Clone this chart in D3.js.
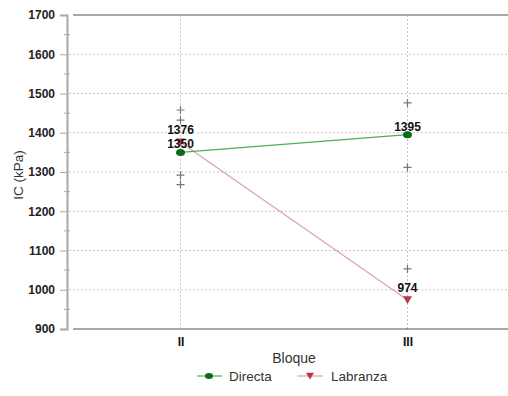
<!DOCTYPE html>
<html>
<head>
<meta charset="utf-8">
<script src="https://cdn.jsdelivr.net/npm/d3@7"></script>
<style>
  html, body { margin: 0; padding: 0; background: #fff; }
  svg { display: block; font-family: Arial, "Liberation Sans", sans-serif; }
</style>
</head>
<body>
<svg id="chart" width="508" height="396"></svg>
<script>
// Bloques evaluados
const bloques = ["II", "III"];

// Índice de cono medio (kPa) por sistema de labranza
const directa = [1350, 1395];
const labranza = [1376, 974];

// Límites de los intervalos de confianza
const directaLow = [1268, 1312];
const directaHigh = [1432, 1476];
const labranzaLow = [1292, 893];
const labranzaHigh = [1458, 1053];

// Marcas del eje Y
const yTicks = [900, 1000, 1100, 1200, 1300, 1400, 1500, 1600, 1700];
const yMinorTicks = [950, 1050, 1150, 1250, 1350, 1450, 1550, 1650];

const svg = d3.select("#chart");
const plotLeft = 67, plotRight = 508, plotTop = 15, plotBottom = 329;

const x = d3.scalePoint().domain(bloques).range([plotLeft, 521]).padding(0.5);
const y = d3.scaleLinear().domain([900, 1700]).range([plotBottom, plotTop]);

svg.append("defs").append("clipPath").attr("id", "plotClip")
  .append("rect").attr("x", plotLeft).attr("y", plotTop)
  .attr("width", plotRight - plotLeft).attr("height", plotBottom - plotTop);

// Cuadrícula horizontal punteada
svg.append("g").selectAll("line").data(yTicks.filter(d => d > 900 && d < 1700)).join("line")
  .attr("x1", plotLeft + 2).attr("x2", plotRight)
  .attr("y1", d => y(d)).attr("y2", d => y(d))
  .attr("stroke", "#c8c8c8").attr("stroke-width", 1).attr("stroke-dasharray", "2,2");

// Cuadrícula vertical punteada
svg.append("g").selectAll("line").data(bloques).join("line")
  .attr("x1", d => x(d)).attr("x2", d => x(d))
  .attr("y1", plotTop).attr("y2", plotBottom)
  .attr("stroke", "#c8c8c8").attr("stroke-width", 1).attr("stroke-dasharray", "2,2");

// Bordes superior e inferior
svg.append("line").attr("x1", plotLeft + 6).attr("x2", plotRight).attr("y1", plotTop).attr("y2", plotTop)
  .attr("stroke", "#a8a8a8").attr("stroke-width", 2);
svg.append("line").attr("x1", plotLeft + 6).attr("x2", plotRight).attr("y1", plotBottom).attr("y2", plotBottom)
  .attr("stroke", "#a8a8a8").attr("stroke-width", 2);

// Eje Y
const yAxis = svg.append("g").attr("transform", `translate(${plotLeft},0)`)
  .call(d3.axisLeft(y).tickValues(yTicks).tickSize(7).tickPadding(5).tickFormat(d3.format("d")));
yAxis.select(".domain").attr("stroke", "#a8a8a8").attr("stroke-width", 2);
yAxis.selectAll(".tick line").attr("stroke", "#a8a8a8");
yAxis.selectAll(".tick text").attr("font-size", 12).attr("font-weight", "bold")
  .attr("fill", "#222").attr("font-family", "Arial, 'Liberation Sans', sans-serif");
svg.append("g").selectAll("line").data(yMinorTicks).join("line")
  .attr("x1", plotLeft - 3).attr("x2", plotLeft + 3)
  .attr("y1", d => y(d)).attr("y2", d => y(d))
  .attr("stroke", "#a8a8a8");

// Eje X
const xAxis = svg.append("g").attr("transform", `translate(0,${plotBottom})`)
  .call(d3.axisBottom(x).tickSize(0).tickPadding(8));
xAxis.select(".domain").remove();
xAxis.selectAll(".tick text").attr("font-size", 12).attr("font-weight", "bold")
  .attr("fill", "#111").attr("font-family", "Arial, 'Liberation Sans', sans-serif");

// Títulos de ejes
svg.append("text").attr("x", 294).attr("y", 363).attr("text-anchor", "middle")
  .attr("font-size", 14).attr("fill", "#333").text("Bloque");
svg.append("text").attr("transform", `translate(23,175) rotate(-90)`).attr("text-anchor", "middle")
  .attr("font-size", 13.5).attr("fill", "#333").text("IC (kPa)");

const plot = svg.append("g").attr("clip-path", "url(#plotClip)");

// Marcas de intervalos (+)
function crosses(vals) {
  plot.append("g").selectAll("path").data(vals).join("path")
    .attr("d", (d, i) => {
      const cx = x(bloques[i]), cy = y(d);
      return `M${cx - 4},${cy}H${cx + 4}M${cx},${cy - 4}V${cy + 4}`;
    })
    .attr("stroke", "#777").attr("stroke-width", 1.2).attr("fill", "none");
}
crosses(directaLow); crosses(directaHigh); crosses(labranzaLow); crosses(labranzaHigh);

// Líneas de las series
const lineGen = d3.line().x((d, i) => x(bloques[i])).y(d => y(d));
plot.append("path").datum(labranza).attr("d", lineGen)
  .attr("fill", "none").attr("stroke", "#d9a3ab").attr("stroke-width", 1.2);
plot.append("path").datum(directa).attr("d", lineGen)
  .attr("fill", "none").attr("stroke", "#4caf50").attr("stroke-width", 1.2);

// Puntos
const triangle = (cx, cy, s) => `M${cx - s},${cy - s * 0.8}L${cx + s},${cy - s * 0.8}L${cx},${cy + s * 0.9}Z`;
plot.append("g").selectAll("path").data(labranza).join("path")
  .attr("d", (d, i) => triangle(x(bloques[i]), y(d), 4.5))
  .attr("fill", "#b8384a");
plot.append("g").selectAll("ellipse").data(directa).join("ellipse")
  .attr("cx", (d, i) => x(bloques[i])).attr("cy", d => y(d))
  .attr("rx", 4.5).attr("ry", 3.5).attr("fill", "#0b6b1a");

// Etiquetas de valores
function labels(vals, dy) {
  svg.append("g").selectAll("text").data(vals).join("text")
    .attr("x", (d, i) => x(bloques[i])).attr("y", d => y(d) + dy)
    .attr("text-anchor", "middle").attr("font-size", 12).attr("font-weight", "bold")
    .attr("fill", "#111").text(d => d);
}
labels(labranza, -8);
labels(directa, -4);

// Leyenda
const leg = svg.append("g").attr("transform", "translate(0,376)");
leg.append("line").attr("x1", 197).attr("x2", 222).attr("y1", 0).attr("y2", 0)
  .attr("stroke", "#4caf50").attr("stroke-width", 1.2);
leg.append("ellipse").attr("cx", 209).attr("cy", 0).attr("rx", 4).attr("ry", 3).attr("fill", "#0b6b1a");
leg.append("text").attr("x", 229).attr("y", 5).attr("font-size", 13.5).attr("fill", "#333").text("Directa");
leg.append("line").attr("x1", 297).attr("x2", 323).attr("y1", 0).attr("y2", 0)
  .attr("stroke", "#d9a3ab").attr("stroke-width", 1.2);
leg.append("path").attr("d", triangle(310, 0, 4)).attr("fill", "#b8384a");
leg.append("text").attr("x", 331).attr("y", 5).attr("font-size", 13.5).attr("fill", "#333").text("Labranza");
</script>
</body>
</html>
